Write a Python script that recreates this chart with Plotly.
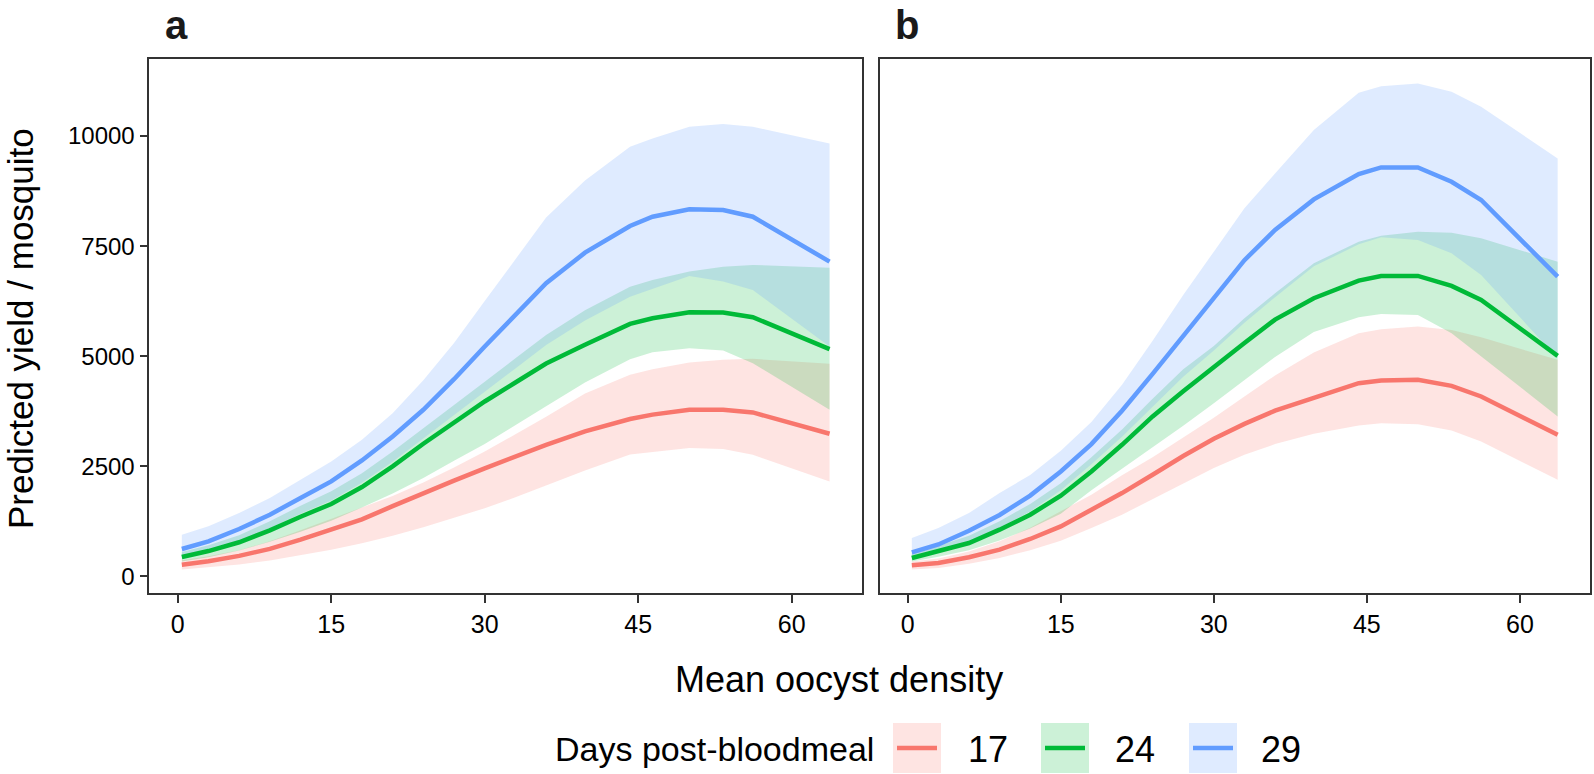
import plotly.graph_objects as go

# ---------------- data ----------------
oocyst = [0.4, 3, 6, 9, 12, 15, 18, 21, 24, 27, 30, 33, 36, 39.8, 44.2, 46.4, 50, 53.3, 56.2, 63.7]
days = ["17", "24", "29"]

# panel a
a17_fit = [260, 340, 460, 620, 830, 1050, 1290, 1590, 1890, 2170, 2450, 2720, 2985, 3290, 3570, 3670, 3780, 3780, 3720, 3235]
a17_lo = [150, 195, 265, 355, 470, 600, 750, 920, 1110, 1320, 1540, 1790, 2060, 2400, 2765, 2826, 2910, 2887, 2758, 2152]
a17_hi = [360, 450, 590, 790, 1040, 1300, 1560, 1820, 2130, 2470, 2830, 3220, 3620, 4150, 4574, 4703, 4854, 4915, 4938, 4824]

a24_fit = [435, 570, 770, 1040, 1350, 1640, 2024, 2494, 3008, 3492, 3969, 4400, 4830, 5260, 5732, 5861, 5997, 5989, 5884, 5158]
a24_lo = [330, 430, 580, 780, 1010, 1260, 1560, 1880, 2230, 2620, 3000, 3420, 3860, 4400, 4930, 5089, 5180, 5126, 4840, 3780]
a24_hi = [550, 700, 930, 1250, 1600, 1930, 2340, 2830, 3360, 3900, 4420, 4950, 5480, 6040, 6579, 6731, 6920, 7033, 7071, 7010]

a29_fit = [617, 790, 1071, 1396, 1775, 2153, 2630, 3175, 3780, 4476, 5218, 5952, 6655, 7351, 7957, 8168, 8336, 8320, 8168, 7147]
a29_lo = [450, 590, 800, 1090, 1420, 1720, 2120, 2600, 3130, 3670, 4190, 4720, 5250, 5810, 6350, 6540, 6822, 6693, 6504, 5217]
a29_hi = [942, 1131, 1435, 1775, 2191, 2607, 3099, 3704, 4450, 5300, 6250, 7200, 8150, 8990, 9757, 9947, 10211, 10272, 10211, 9834]

# panel b
b17_fit = [246, 299, 428, 602, 844, 1131, 1510, 1888, 2304, 2730, 3120, 3460, 3760, 4050, 4385, 4446, 4461, 4325, 4083, 3212]
b17_lo = [150, 185, 284, 413, 587, 806, 1094, 1396, 1737, 2100, 2456, 2758, 3000, 3235, 3424, 3477, 3454, 3311, 3061, 2191]
b17_hi = [330, 400, 560, 790, 1100, 1470, 1850, 2290, 2700, 3150, 3600, 4080, 4560, 5080, 5520, 5611, 5671, 5596, 5430, 4915]

b24_fit = [413, 564, 753, 1056, 1396, 1827, 2380, 2985, 3629, 4200, 4760, 5300, 5830, 6315, 6716, 6822, 6822, 6595, 6277, 5006]
b24_lo = [330, 440, 590, 810, 1080, 1420, 1950, 2450, 2930, 3420, 3931, 4450, 4980, 5550, 5883, 5959, 5936, 5520, 4991, 3629]
b24_hi = [530, 690, 920, 1250, 1640, 2110, 2700, 3330, 4030, 4700, 5230, 5860, 6428, 7109, 7601, 7737, 7828, 7805, 7677, 7147]

b29_fit = [541, 720, 1030, 1390, 1830, 2380, 3000, 3760, 4597, 5460, 6330, 7180, 7866, 8562, 9137, 9288, 9288, 8963, 8547, 6806]
b29_lo = [430, 580, 790, 1100, 1470, 1950, 2540, 3170, 3860, 4530, 5130, 5760, 6340, 7040, 7540, 7700, 7639, 7336, 6844, 4950]
b29_hi = [867, 1094, 1434, 1888, 2300, 2850, 3500, 4350, 5350, 6390, 7374, 8358, 9152, 10136, 10983, 11135, 11195, 11006, 10666, 9493]

y_ticks = [0, 2500, 5000, 7500, 10000]
y_tick_text = ["0", "2500", "5000", "7500", "10000"]
x_ticks = [0, 15, 30, 45, 60]
panel_tags = ["a", "b"]
x_title = "Mean oocyst density"
y_title = "Predicted yield / mosquito"
legend_title = "Days post-bloodmeal"

# ---------------- styling ----------------
W, H = 1594, 774
FONT = "Liberation Sans, Arial, Helvetica, sans-serif"
colors = {"17": (248, 118, 109), "24": (0, 186, 56), "29": (97, 156, 255)}

def rgb(c, a=None):
    return f"rgba({c[0]},{c[1]},{c[2]},{a})" if a is not None else f"rgb({c[0]},{c[1]},{c[2]})"

def px(x):
    return x / W

def py(y):
    return 1 - y / H

panels = {
    "a": {"17": (a17_fit, a17_lo, a17_hi), "24": (a24_fit, a24_lo, a24_hi), "29": (a29_fit, a29_lo, a29_hi)},
    "b": {"17": (b17_fit, b17_lo, b17_hi), "24": (b24_fit, b24_lo, b24_hi), "29": (b29_fit, b29_lo, b29_hi)},
}
axes_ids = {"a": ("x", "y"), "b": ("x2", "y2")}

fig = go.Figure()
for tag in panel_tags:
    xa, ya = axes_ids[tag]
    for d in days:
        fit, lo, hi = panels[tag][d]
        fig.add_trace(go.Scatter(
            x=oocyst + oocyst[::-1], y=hi + lo[::-1], xaxis=xa, yaxis=ya,
            fill="toself", fillcolor=rgb(colors[d], 0.2), line=dict(width=0),
            mode="lines", hoverinfo="skip", showlegend=False))
    for d in days:
        fit, lo, hi = panels[tag][d]
        fig.add_trace(go.Scatter(
            x=oocyst, y=fit, xaxis=xa, yaxis=ya, mode="lines",
            line=dict(color=rgb(colors[d]), width=4.5), name=d, showlegend=False))

x_range = [-2.77, 66.87]
y_range = [-390, 11745]
common_x = dict(range=x_range, tickvals=x_ticks, ticks="outside", ticklen=8, tickwidth=1.6,
                tickcolor="#333333", showline=True, linecolor="#333333", linewidth=1.8,
                mirror=True, showgrid=False, zeroline=False,
                tickfont=dict(family=FONT, size=25, color="#000000"))
common_y = dict(range=y_range, showline=True, linecolor="#333333", linewidth=1.8,
                mirror=True, showgrid=False, zeroline=False)

y_dom = [py(593.3), py(59.3)]
fig.update_layout(
    width=W, height=H, margin=dict(l=0, r=0, t=0, b=0),
    paper_bgcolor="white", plot_bgcolor="white", showlegend=False,
    xaxis=dict(domain=[px(149.4), px(862)], anchor="y", **common_x),
    xaxis2=dict(domain=[px(879.5), px(1590)], anchor="y2", **common_x),
    yaxis=dict(domain=y_dom, anchor="x", tickvals=y_ticks, ticktext=y_tick_text,
               ticks="outside", ticklen=8, tickwidth=1.6, tickcolor="#333333",
               tickfont=dict(family=FONT, size=24, color="#000000"), **common_y),
    yaxis2=dict(domain=y_dom, anchor="x2", showticklabels=False, ticks="", **common_y),
)

annotations = []
for tag, xl in zip(panel_tags, [163, 893]):
    annotations.append(dict(x=px(xl), y=py(25), xref="paper", yref="paper", text=f"<b>{tag}</b>",
                            showarrow=False, xanchor="left", yanchor="middle",
                            font=dict(family=FONT, size=40, color="#1a1a1a")))
annotations.append(dict(x=px(839), y=py(679), xref="paper", yref="paper", text=x_title,
                        showarrow=False, xanchor="center", yanchor="middle",
                        font=dict(family=FONT, size=36, color="#000000")))
annotations.append(dict(x=px(21), y=py(329), xref="paper", yref="paper", text=y_title, textangle=-90,
                        showarrow=False, xanchor="center", yanchor="middle",
                        font=dict(family=FONT, size=35, color="#000000")))
annotations.append(dict(x=px(876), y=py(749), xref="paper", yref="paper", text=legend_title,
                        showarrow=False, xanchor="right", yanchor="middle",
                        font=dict(family=FONT, size=34, color="#000000")))
shapes = []
key_left = {"17": 893, "24": 1041, "29": 1189}
label_left = {"17": 966, "24": 1113, "29": 1259}
for d in days:
    x0 = key_left[d]
    shapes.append(dict(type="rect", xref="paper", yref="paper", x0=px(x0), x1=px(x0 + 48),
                       y0=py(773), y1=py(723), fillcolor=rgb(colors[d], 0.2), line=dict(width=0)))
    shapes.append(dict(type="line", xref="paper", yref="paper", x0=px(x0 + 4), x1=px(x0 + 44),
                       y0=py(748), y1=py(748), line=dict(color=rgb(colors[d]), width=4.5)))
    annotations.append(dict(x=px(label_left[d]), y=py(749), xref="paper", yref="paper", text=d,
                            showarrow=False, xanchor="left", yanchor="middle",
                            font=dict(family=FONT, size=36, color="#000000")))

fig.update_layout(annotations=annotations, shapes=shapes)
fig.write_html("out.html", config={"displayModeBar": False},
               post_script="document.body.style.margin='0';document.body.style.padding='0';document.body.style.overflow='hidden';")
